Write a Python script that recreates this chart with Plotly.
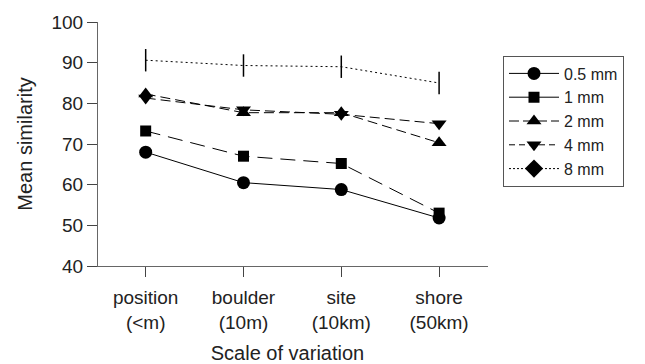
import plotly.graph_objects as go

categories = ["position<br>(<m)", "boulder<br>(10m)", "site<br>(10km)", "shore<br>(50km)"]
xpos = [0, 1, 2, 3]

s05 = [68.0, 60.5, 58.8, 51.8]
s1 = [73.2, 67.0, 65.2, 53.0]
s2 = [82.3, 77.7, 77.7, 70.3]
s4 = [81.3, 78.4, 77.3, 75.0]
s8 = [90.6, 89.3, 89.0, 85.0]

names = ["0.5 mm", "1 mm", "2 mm", "4 mm", "8 mm"]

FONT = "Liberation Sans, Arial, Helvetica, sans-serif"
fig = go.Figure()

def add(y, symbol, size, dash, name):
    fig.add_trace(go.Scatter(
        x=xpos, y=y, mode="lines+markers", name=name, showlegend=False,
        line=dict(color="black", width=1, dash=dash),
        marker=dict(symbol=symbol, size=size, color="black",
                    line=dict(color="black", width=1.5 if symbol == "line-ns" else 0)),
    ))

add(s05, "circle", 13, "solid", names[0])
add(s1, "square", 11, "15px,8px", names[1])
add(s2, "triangle-up", 13, "10px,5px", names[2])
add(s4, "triangle-down", 13, "10px,5px", names[3])
add(s8, "line-ns", 16, "2px,3px", names[4])

# legend entries
leg = [("circle", 13, "solid"), ("square", 11, "solid"), ("triangle-up", 13, "10px,4px"),
       ("triangle-down", 13, "6px,4px"), ("diamond", 14, "2px,2px")]
for (sym, sz, dash), nm in zip(leg, names):
    fig.add_trace(go.Scatter(
        x=[None], y=[None], mode="lines+markers", name=nm,
        line=dict(color="black", width=1, dash=dash),
        marker=dict(symbol=sym, size=sz, color="black"),
    ))

L, R, T, B = 87, 157, 22, 98
W = 645 - L - R
fig.update_layout(
    width=645, height=364,
    margin=dict(l=L, r=R, t=T, b=B, pad=0),
    paper_bgcolor="white", plot_bgcolor="white",
    font=dict(family=FONT, size=18, color="#222"),
    xaxis=dict(
        range=[-0.6, 3.5], tickmode="array", tickvals=xpos, ticktext=categories,
        showgrid=False, zeroline=False, showline=True, linecolor="#666", linewidth=1,
        ticks="outside", ticklen=10, tickcolor="#444", tickwidth=1,
        tickfont=dict(size=19), ticklabelstandoff=4, automargin=False,
        title=dict(text="Scale of variation", font=dict(size=20), standoff=14),
    ),
    yaxis=dict(
        range=[40, 100], tickvals=[40, 50, 60, 70, 80, 90, 100],
        showgrid=False, zeroline=False, showline=True, linecolor="#666", linewidth=1,
        ticks="outside", ticklen=10, tickcolor="#444", tickwidth=1,
        anchor="free", position=10 / W, automargin=False,
        tickfont=dict(size=19),
        title=dict(text="Mean similarity", font=dict(size=20), standoff=12),
    ),
    legend=dict(
        x=(503 - L) / W, xanchor="left", y=(265.5 - 55) / (364 - T - B), yanchor="top",
        bordercolor="#555", borderwidth=1, bgcolor="white",
        font=dict(size=16, color="#222"), tracegroupgap=0, itemwidth=50,
    ),
)

fig.write_html("out.html")
